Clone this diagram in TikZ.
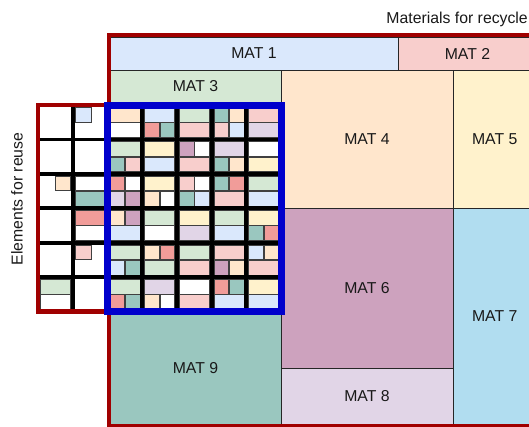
\documentclass[tikz,border=0pt]{standalone}
\usepackage{fontspec}
\setmainfont{Liberation Sans}
\usepackage{tikz}
\usepackage{xcolor}
\definecolor{cblue}{HTML}{DAE8FC}
\definecolor{cpink}{HTML}{F8CECC}
\definecolor{cgreen}{HTML}{D5E8D4}
\definecolor{cpeach}{HTML}{FFE6CC}
\definecolor{cyellow}{HTML}{FFF2CC}
\definecolor{cmauve}{HTML}{CDA2BE}
\definecolor{ccyan}{HTML}{B1DDF0}
\definecolor{clilac}{HTML}{E1D5E7}
\definecolor{cteal}{HTML}{9AC7BF}
\definecolor{csalmon}{HTML}{F19C99}
\definecolor{framered}{HTML}{A00000}
\definecolor{frameblue}{HTML}{0000CC}
\tikzstyle{matbox} = [
    rectangle, draw=black!85, line width=0.9pt, inner sep=0pt,
    font=\fontsize{15.8}{19}\selectfont, text=black!90
]
\tikzstyle{labeltext} = [font=\fontsize{15.8}{19}\selectfont, text=black!90, inner sep=0pt]
\tikzstyle{redframe} = [draw=framered, line width=4pt]
\tikzstyle{blueframe} = [draw=frameblue, line width=7pt]
\tikzstyle{gridline} = [draw=black, line width=3.8pt]
\tikzstyle{blk} = [draw=black!75, line width=0.6pt]
% grid geometry
\def\gridx{107.5}
\def\gridy{105}
\def\cellw{34.7}
\def\cellh{34.4}
\def\linegap{1.9}
\def\innerw{30.9}
\def\innerh{30.6}
% column, row, sub-row, from, to, colour
\newcommand{\blkpart}[6]{%
  \draw[blk, fill=#6]
    ({\gridx+\cellw*(#1)+\linegap+\innerw*(#4)+0.3},
     {\gridy+\cellh*(#2)+\linegap+\innerh*(#3)/2+0.3})
    rectangle
    ({\gridx+\cellw*(#1)+\linegap+\innerw*(#5)-0.3},
     {\gridy+\cellh*(#2)+\linegap+\innerh*(#3+1)/2-0.3});}
% column, row, sub-row, left colour, right colour
\newcommand{\subrow}[5]{%
  \def\leftcol{#4}\def\rightcol{#5}%
  \ifx\leftcol\rightcol
    \blkpart{#1}{#2}{#3}{0}{1}{#4}%
  \else
    \blkpart{#1}{#2}{#3}{0}{0.5}{#4}%
    \blkpart{#1}{#2}{#3}{0.5}{1}{#5}%
  \fi}
\newcommand{\rackcell}[6]{\subrow{#1}{#2}{0}{#3}{#4}\subrow{#1}{#2}{1}{#5}{#6}}

\begin{document}
\begin{tikzpicture}[x=1pt, y=-1pt]

    \useasboundingbox (0,0) rectangle (529,426);
    \fill[white] (0,0) rectangle (529,426);

    % Materials for recycle
    \node[matbox, fill=cblue, minimum width=288pt, minimum height=33pt] (mat1) at (254,53.5) {MAT 1};
    \node[matbox, fill=cpink, minimum width=138pt, minimum height=33pt] (mat2) at (467.5,53.5) {MAT 2};
    \node[matbox, fill=cgreen, minimum width=171pt, minimum height=32pt] (mat3) at (195.5,86) {MAT 3};
    \node[matbox, fill=cpeach, minimum width=172pt, minimum height=138pt] (mat4) at (367,139) {MAT 4};
    \node[matbox, fill=cyellow, minimum width=83.5pt, minimum height=138pt] (mat5) at (494.75,139) {MAT 5};
    \node[matbox, fill=cmauve, minimum width=172pt, minimum height=160pt] (mat6) at (367,288) {MAT 6};
    \node[matbox, fill=ccyan, minimum width=83.5pt, minimum height=216pt] (mat7) at (494.75,316) {MAT 7};
    \node[matbox, fill=clilac, minimum width=172pt, minimum height=56pt] (mat8) at (367,396) {MAT 8};
    \node[matbox, fill=cteal, minimum width=171pt, minimum height=112pt] (mat9) at (195.5,368) {MAT 9};
    \draw[redframe] (108.5,34.7) rectangle (538.5,425.5);

    % Elements for reuse
    \fill[white] ({\gridx-2*\cellw},\gridy) rectangle (\gridx,{\gridy+6*\cellh});
    \blkpart{-1}{0}{0}{0}{0.55}{cblue}
    \blkpart{-2}{2}{0}{0.5}{1}{cpeach}
    \blkpart{-1}{2}{0}{0}{1}{white}
    \blkpart{-1}{2}{1}{0}{1}{cteal}
    \blkpart{-1}{3}{0}{0}{1}{csalmon}
    \blkpart{-1}{3}{1}{0}{1}{white}
    \blkpart{-1}{4}{0}{0}{0.55}{cpink}
    \blkpart{-2}{5}{0}{0}{1}{cgreen}
    \blkpart{-2}{5}{1}{0}{1}{white}
    \draw[gridline] ({\gridx-\cellw},\gridy) -- ({\gridx-\cellw},{\gridy+6*\cellh});
    \foreach \r in {1,...,5}
        \draw[gridline] ({\gridx-2*\cellw},{\gridy+\cellh*\r}) -- (\gridx,{\gridy+\cellh*\r});
    \draw[redframe, line width=4.5pt] ({\gridx-2*\cellw},\gridy) rectangle (\gridx,{\gridy+6*\cellh});

    % Stored elements
    \fill[white] (\gridx,\gridy) rectangle ({\gridx+5*\cellw},{\gridy+6*\cellh});
    % row 1
    \rackcell{0}{0}{cpeach}{cpeach}{white}{white}
    \rackcell{1}{0}{cblue}{cblue}{csalmon}{cteal}
    \rackcell{2}{0}{cgreen}{cgreen}{cpink}{cpink}
    \rackcell{3}{0}{cteal}{cpeach}{cpink}{cblue}
    \rackcell{4}{0}{cpink}{cpink}{clilac}{clilac}
    % row 2
    \rackcell{0}{1}{cgreen}{cgreen}{cteal}{cpink}
    \rackcell{1}{1}{cyellow}{cyellow}{cblue}{cblue}
    \rackcell{2}{1}{cmauve}{white}{cpink}{cpink}
    \rackcell{3}{1}{clilac}{clilac}{cteal}{cpeach}
    \rackcell{4}{1}{white}{white}{cyellow}{cyellow}
    % row 3
    \rackcell{0}{2}{csalmon}{white}{clilac}{cmauve}
    \rackcell{1}{2}{cyellow}{cyellow}{cpeach}{white}
    \rackcell{2}{2}{cpink}{white}{cteal}{cblue}
    \rackcell{3}{2}{cteal}{csalmon}{cpink}{cpink}
    \rackcell{4}{2}{cgreen}{cgreen}{cblue}{cblue}
    % row 4
    \rackcell{0}{3}{cpeach}{cmauve}{cblue}{cblue}
    \rackcell{1}{3}{cgreen}{cgreen}{white}{white}
    \rackcell{2}{3}{cyellow}{cyellow}{clilac}{clilac}
    \rackcell{3}{3}{cgreen}{cgreen}{cblue}{cblue}
    \rackcell{4}{3}{cyellow}{cyellow}{cteal}{csalmon}
    % row 5
    \rackcell{0}{4}{cgreen}{cgreen}{cblue}{cteal}
    \rackcell{1}{4}{cpeach}{csalmon}{cgreen}{cgreen}
    \rackcell{2}{4}{cgreen}{cgreen}{cpink}{cpink}
    \rackcell{3}{4}{cpink}{cpink}{cmauve}{cpeach}
    \rackcell{4}{4}{cblue}{cpeach}{cpink}{cpink}
    % row 6
    \rackcell{0}{5}{cgreen}{cgreen}{csalmon}{cteal}
    \rackcell{1}{5}{clilac}{clilac}{cpeach}{white}
    \rackcell{2}{5}{white}{white}{cpink}{cpink}
    \rackcell{3}{5}{csalmon}{cteal}{cblue}{cblue}
    \rackcell{4}{5}{cyellow}{cyellow}{cblue}{cblue}
    \foreach \c in {1,...,4}
        \draw[gridline] ({\gridx+\cellw*\c},\gridy) -- ({\gridx+\cellw*\c},{\gridy+6*\cellh});
    \foreach \r in {1,...,5}
        \draw[gridline] (\gridx,{\gridy+\cellh*\r}) -- ({\gridx+5*\cellw},{\gridy+\cellh*\r});
    \draw[blueframe] (\gridx,\gridy) rectangle ({\gridx+5*\cellw},{\gridy+6*\cellh});

    % Labels
    \node[labeltext, anchor=base east] (recycle) at (528,23.3) {Materials for recycle};
    \node[labeltext, rotate=90] (reuse) at (17,199) {Elements for reuse};

\end{tikzpicture}
\end{document}
